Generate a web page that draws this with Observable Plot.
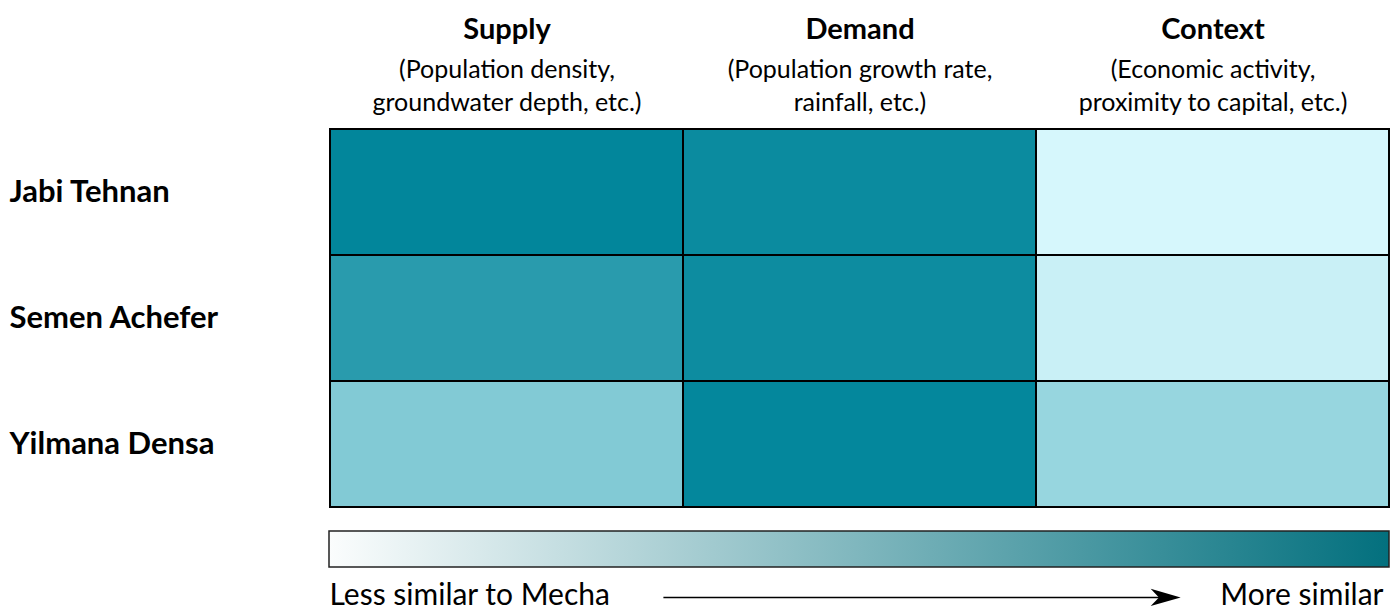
<!DOCTYPE html>
<html>
<head>
<meta charset="utf-8">
<script src="https://cdn.jsdelivr.net/npm/d3@7"></script>
<script src="https://cdn.jsdelivr.net/npm/@observablehq/plot@0.6"></script>
<style>
  html, body { margin: 0; padding: 0; background: #ffffff; }
  #chart { width: 1400px; }
  #chart svg { display: block; font-family: Lato, "Noto Sans", sans-serif; }
</style>
</head>
<body>
<div id="chart"></div>
<script>
// ---- data ----
const columns = ["Supply", "Demand", "Context"];
const columnNotes = [
  "(Population density,\ngroundwater depth, etc.)",
  "(Population growth rate,\nrainfall, etc.)",
  "(Economic activity,\nproximity to capital, etc.)"
];
const districts = ["Jabi Tehnan", "Semen Achefer", "Yilmana Densa"];
// similarity to Mecha (0 = less similar, 1 = more similar), per district
const supplySimilarity  = [0.99, 0.81, 0.40];
const demandSimilarity  = [0.95, 0.94, 0.98];
const contextSimilarity = [0.01, 0.07, 0.30];
const legendLabels = ["Less similar to Mecha", "More similar"];
const legendRange = [0, 1];

// ---- table built from the arrays ----
const seriesByColumn = [supplySimilarity, demandSimilarity, contextSimilarity];
const cells = [];
districts.forEach((d, i) => {
  columns.forEach((c, j) => cells.push({district: d, column: c, value: seriesByColumn[j][i]}));
});
const notes = columns.map((c, j) => ({column: c, note: columnNotes[j]}));

const main = Plot.plot({
  width: 1400,
  height: 520,
  marginTop: 128,
  marginBottom: 12,
  marginLeft: 329,
  marginRight: 11,
  x: {type: "band", domain: columns, padding: 0, axis: null},
  y: {type: "band", domain: districts, padding: 0, axis: null},
  color: {type: "linear", domain: [0, 1], range: ["#d8f8fd", "#00859a"]},
  marks: [
    Plot.cell(cells, {x: "column", y: "district", fill: "value", stroke: "#000000", strokeWidth: 2}),
    Plot.text(columns, {x: d => d, text: d => d, frameAnchor: "top", dy: -110,
      fontSize: 29, fontWeight: "bold", fill: "#000000"}),
    Plot.text(notes, {x: "column", text: "note", frameAnchor: "top", dy: -74,
      fontSize: 25, lineHeight: 1.32, fill: "#000000"}),
    Plot.text(districts, {y: d => d, text: d => d, frameAnchor: "left", dx: -320,
      textAnchor: "start", fontSize: 31, fontWeight: "bold", fill: "#000000"})
  ]
});

const stealth = {
  draw(context, size) {
    const r = Math.sqrt(size / Math.PI);
    context.moveTo(0, 0);
    context.lineTo(-2 * r, -0.58 * r);
    context.lineTo(-1.45 * r, 0);
    context.lineTo(-2 * r, 0.58 * r);
    context.closePath();
  }
};

const legend = Plot.plot({
  width: 1400,
  height: 91,
  marginTop: 11,
  marginBottom: 44,
  marginLeft: 329,
  marginRight: 11,
  x: {domain: legendRange, axis: null},
  y: {domain: [0, 1], axis: null},
  marks: [
    Plot.rect([legendRange], {x1: d => d[0], x2: d => d[1], y1: 0, y2: 1,
      fill: "url(#simGradient)", stroke: "#222222", strokeWidth: 1.5}),
    Plot.text([legendLabels[0]], {x: legendRange[0], text: d => d, frameAnchor: "bottom",
      dy: 37, textAnchor: "start", fontSize: 30, fill: "#000000"}),
    Plot.text([legendLabels[1]], {x: legendRange[1], text: d => d, frameAnchor: "bottom",
      dy: 37, textAnchor: "end", dx: -6, fontSize: 30, fill: "#000000"}),
    Plot.link([0], {x1: 0.315, x2: 0.79, y1: -0.83, y2: -0.83, stroke: "#000000", strokeWidth: 1.5}),
    Plot.dot([0], {x: 0.803, y: -0.83, symbol: stealth, r: 15, fill: "#000000", stroke: "none"})
  ]
});

// gradient for the colour bar
const ns = "http://www.w3.org/2000/svg";
const defs = document.createElementNS(ns, "defs");
const grad = document.createElementNS(ns, "linearGradient");
grad.setAttribute("id", "simGradient");
[["0%", "#fbfdfd"], ["100%", "#03707e"]].forEach(([o, c]) => {
  const s = document.createElementNS(ns, "stop");
  s.setAttribute("offset", o);
  s.setAttribute("stop-color", c);
  grad.appendChild(s);
});
defs.appendChild(grad);
legend.insertBefore(defs, legend.firstChild);

const el = document.getElementById("chart");
el.appendChild(main);
el.appendChild(legend);
</script>
</body>
</html>
